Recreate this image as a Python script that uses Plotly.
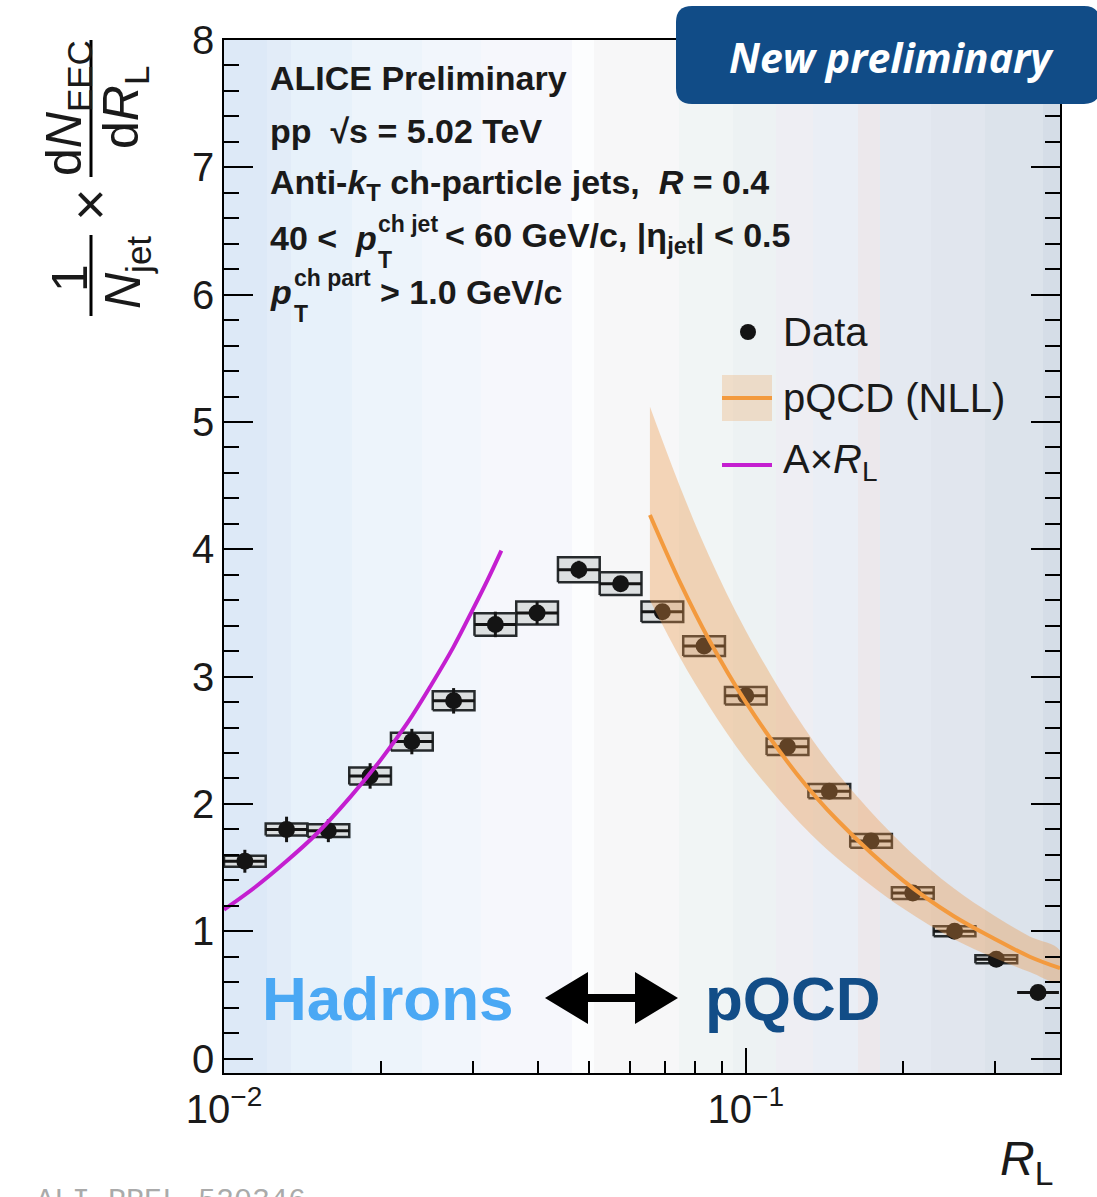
import numpy as np
import plotly.graph_objects as go

# ---------------- data ----------------
bin_edges = [0.01, 0.01202, 0.01445, 0.01738, 0.02089, 0.02512, 0.03020, 0.03631,
             0.04365, 0.05248, 0.06310, 0.07586, 0.09120, 0.1096, 0.1318, 0.1585,
             0.1905, 0.2291, 0.2754, 0.3311, 0.3981]
eec_values = [1.55, 1.80, 1.79, 2.22, 2.49, 2.81, 3.41, 3.50, 3.84, 3.73,
              3.51, 3.24, 2.85, 2.45, 2.10, 1.71, 1.30, 1.00, 0.78, 0.52]
stat_err = [0.09, 0.10, 0.09, 0.10, 0.10, 0.10, 0.10, 0.09, 0.07, 0.06,
            0.05, 0.05, 0.04, 0.04, 0.04, 0.03, 0.03, 0.03, 0.02, 0.02]
sys_err = [0.043, 0.047, 0.050, 0.067, 0.070, 0.075, 0.088, 0.090, 0.098, 0.089,
           0.081, 0.077, 0.069, 0.065, 0.056, 0.054, 0.046, 0.039, 0.031, 0.0]

pqcd_R = [0.0655, 0.075, 0.085, 0.10, 0.125, 0.15, 0.20, 0.25, 0.30, 0.35, 0.40]
pqcd_central = [4.27, 3.73, 3.29, 2.80, 2.24, 1.87, 1.40, 1.12, 0.94, 0.80, 0.71]
pqcd_upper = [5.12, 4.48, 3.95, 3.36, 2.69, 2.24, 1.68, 1.34, 1.12, 0.96, 0.85]
pqcd_lower = [3.60, 3.14, 2.77, 2.35, 1.88, 1.57, 1.18, 0.94, 0.79, 0.68, 0.60]

lin_R = [0.0100, 0.0115, 0.0130, 0.0150, 0.0175, 0.0200, 0.0225, 0.0250,
         0.0275, 0.0300, 0.0320, 0.0340]
lin_values = [1.17, 1.35, 1.53, 1.76, 2.06, 2.35, 2.64, 2.94, 3.23, 3.53, 3.76, 3.99]

xtick_vals = [0.01, 0.1]
xtick_text = ["10<sup>\u22122</sup>", "10<sup>\u22121</sup>"]
xminor_vals = [0.02, 0.03, 0.04, 0.05, 0.06, 0.07, 0.08, 0.09, 0.2, 0.3]

# ---------------- derived ----------------
edges = np.array(bin_edges)
lo, hi = edges[:-1], edges[1:]
centers = np.sqrt(lo * hi)
vals = np.array(eec_values)
syst = np.array(sys_err)

W, H = 1097, 1197
L, R_, T, B = 224, 1060, 40, 1073


def px(x):
    return (x - L) / (R_ - L)


def py(y):
    return (B - y) / (B - T)


FONT = "Liberation Sans, Arial, Helvetica, sans-serif"
fig = go.Figure()

# systematic boxes
bx, by = [], []
for l, h, v, s in zip(lo, hi, vals, syst):
    if s <= 0:
        continue
    bx += [l, h, h, l, l, None]
    by += [v - s, v - s, v + s, v + s, v - s, None]
fig.add_trace(go.Scatter(x=bx, y=by, mode="lines", fill="toself",
                         fillcolor="#dcdfe0", line=dict(color="#262a2c", width=2.5),
                         hoverinfo="skip", showlegend=False))

# data points
fig.add_trace(go.Scatter(
    x=centers, y=vals, mode="markers",
    marker=dict(size=17, color="#141414"),
    error_y=dict(type="data", array=stat_err, thickness=3, width=0, color="#141414"),
    error_x=dict(type="data", array=hi - centers, arrayminus=centers - lo,
                 thickness=3, width=0, color="#141414"),
    showlegend=False))

# pQCD band
fig.add_trace(go.Scatter(x=pqcd_R + pqcd_R[::-1], y=pqcd_upper + pqcd_lower[::-1],
                         mode="lines", fill="toself", fillcolor="rgba(236,150,70,0.36)",
                         line=dict(width=0, shape="spline"), hoverinfo="skip", showlegend=False))
fig.add_trace(go.Scatter(x=pqcd_R, y=pqcd_central, mode="lines",
                         line=dict(color="#f39a3e", width=4, shape="spline"), showlegend=False))
# A x R_L
fig.add_trace(go.Scatter(x=lin_R, y=lin_values, mode="lines",
                         line=dict(color="#c41fd0", width=4, shape="spline"), showlegend=False))

shapes = []
stripes = [(224, 267, "#dde9f7"), (267, 291, "#e2ecf8"), (291, 352, "#e7f1fa"),
           (352, 422, "#edf4fb"), (422, 481, "#f2f6fc"), (481, 572, "#f6f7fc"),
           (572, 594, "#fcfdfe"), (594, 679, "#f7f7f8"), (679, 733, "#f1f5f5"),
           (733, 776, "#edf2f3"), (776, 813, "#eeeef3"), (813, 858, "#eaeef5"),
           (858, 880, "#ece8ec"), (880, 931, "#e4e9f1"), (931, 985, "#e1e6ee"),
           (985, 1043, "#dce3eb"), (1043, 1060, "#d5dde7")]
for a, b, c in stripes:
    shapes.append(dict(type="rect", xref="paper", yref="paper", x0=px(a), x1=px(b),
                       y0=0, y1=1, fillcolor=c, line=dict(width=0), layer="below"))


def rrect(x0, y0, x1, y1, r):
    pts = [("M", x0 + r, y0), ("L", x1 - r, y0), ("Q", x1, y0, x1, y0 + r),
           ("L", x1, y1 - r), ("Q", x1, y1, x1 - r, y1), ("L", x0 + r, y1),
           ("Q", x0, y1, x0, y1 - r), ("L", x0, y0 + r), ("Q", x0, y0, x0 + r, y0)]
    out = []
    for p in pts:
        cmd = p[0]
        coords = p[1:]
        s = []
        for i in range(0, len(coords), 2):
            s.append(f"{px(coords[i]):.5f},{py(coords[i+1]):.5f}")
        out.append(cmd + " " + " ".join(s))
    return " ".join(out) + " Z"


shapes.append(dict(type="path", xref="paper", yref="paper", path=rrect(676, 6, 1100, 104, 16),
                   fillcolor="#114c87", line=dict(width=0), layer="above"))


def poly(points):
    s = "M " + " L ".join(f"{px(x):.5f},{py(y):.5f}" for x, y in points) + " Z"
    return s


arrow = [(545, 998), (588, 972), (588, 994), (635, 994), (635, 972), (678, 998),
         (635, 1024), (635, 1002), (588, 1002), (588, 1024)]
shapes.append(dict(type="path", xref="paper", yref="paper", path=poly(arrow),
                   fillcolor="black", line=dict(width=0), layer="above"))

# legend symbols
shapes.append(dict(type="circle", xref="paper", yref="paper", x0=px(740), x1=px(756),
                   y0=py(340), y1=py(324), fillcolor="#141414", line=dict(width=0)))
shapes.append(dict(type="rect", xref="paper", yref="paper", x0=px(722), x1=px(772),
                   y0=py(421), y1=py(375), fillcolor="rgba(236,150,70,0.25)", line=dict(width=0)))
shapes.append(dict(type="line", xref="paper", yref="paper", x0=px(722), x1=px(772),
                   y0=py(398), y1=py(398), line=dict(color="#f39a3e", width=4)))
shapes.append(dict(type="line", xref="paper", yref="paper", x0=px(722), x1=px(772),
                   y0=py(465), y1=py(465), line=dict(color="#c41fd0", width=4)))
# fraction bars of y title
shapes.append(dict(type="line", xref="paper", yref="paper", x0=px(91), x1=px(91),
                   y0=py(40), y1=py(177), line=dict(color="black", width=3)))
shapes.append(dict(type="line", xref="paper", yref="paper", x0=px(91), x1=px(91),
                   y0=py(235), y1=py(316), line=dict(color="black", width=3)))

annotations = []


def ann(text, x, y, size, xanchor="left", yanchor="middle", color="#1a1a1a",
        family=FONT, angle=0):
    annotations.append(dict(text=text, x=px(x), y=py(y), xref="paper", yref="paper",
                            xanchor=xanchor, yanchor=yanchor, showarrow=False,
                            textangle=angle, font=dict(size=size, color=color, family=family)))


TS = 34
SS = 23
ann("<b>ALICE Preliminary</b>", 268, 78, TS)
ann("<b>pp \u00a0\u221as = 5.02 TeV</b>", 268, 131, TS)
ann("<b>Anti-<i>k</i><sub>T</sub> ch-particle jets, \u00a0<i>R</i> = 0.4</b>", 268, 185, TS)
ann("<b>40 &lt; \u00a0<i>p</i></b>", 268, 238, TS)
ann("<b>ch jet</b>", 376, 224, SS)
ann("<b>T</b>", 376, 260, SS)
ann("<b>&lt; 60 GeV/c, |\u03b7<sub>jet</sub>| &lt; 0.5</b>", 443, 238, TS)
ann("<b><i>p</i></b>", 268, 292, TS)
ann("<b>ch part</b>", 292, 278, SS)
ann("<b>T</b>", 292, 314, SS)
ann("<b>&gt; 1.0 GeV/c</b>", 378, 292, TS)

# legend texts
ann("Data", 781, 332, 40)
ann("pQCD (NLL)", 781, 398, 40)
ann("A\u00d7<i>R</i><sub>L</sub>", 781, 462, 40)

# header box text
ann("<b><i>New preliminary</i></b>", 891, 57, 41, xanchor="center", color="white",
    family="Open Sans, sans-serif")

# Hadrons <-> pQCD
ann("<b>Hadrons</b>", 387, 998, 62, xanchor="center", color="#4aa8f4")
ann("<b>pQCD</b>", 793, 998, 62, xanchor="center", color="#124d87")

# axis titles
ann("<i>R</i><sub>L</sub>", 1026, 1162, 48, xanchor="center")
ann("d<i>N</i><sub>EEC</sub>", 67, 108, 50, xanchor="center", angle=-90)
ann("d<i>R</i><sub>L</sub>", 124, 108, 50, xanchor="center", angle=-90)
ann("\u00d7", 90, 205, 56, xanchor="center", angle=-90)
ann("1", 70, 278, 50, xanchor="center", angle=-90)
ann("<i>N</i><sub>jet</sub>", 126, 273, 50, xanchor="center", angle=-90)

# watermark (cut at the bottom)
ann("ALI-PREL-520346", 34, 1201, 30, color="#aaaaaa",
    family="Liberation Mono, Courier New, monospace")

fig.update_layout(
    width=W, height=H,
    margin=dict(l=L, r=W - R_, t=T, b=H - B, pad=0),
    paper_bgcolor="white", plot_bgcolor="white",
    font=dict(family=FONT, color="#1a1a1a"),
    shapes=shapes, annotations=annotations, showlegend=False,
    xaxis=dict(type="log", range=[-2, np.log10(0.4)], showgrid=False, zeroline=False,
               showline=True, linecolor="black", linewidth=1.5, mirror=True,
               ticks="inside", ticklen=25, tickwidth=1.5, tickcolor="black",
               tickvals=xtick_vals, ticktext=xtick_text, tickfont=dict(size=40),
               ticklabelstandoff=0,
               minor=dict(tickvals=xminor_vals, ticks="inside", ticklen=12,
                          tickwidth=1.5, tickcolor="black")),
    yaxis=dict(range=[-0.113, 8], showgrid=False, zeroline=False,
               showline=True, linecolor="black", linewidth=1.5, mirror="allticks",
               ticks="inside", ticklen=29, tickwidth=1.5, tickcolor="black",
               tick0=0, dtick=1, tickfont=dict(size=40), ticklabelstandoff=0,
               minor=dict(dtick=0.2, ticks="inside", ticklen=15, tickwidth=1.5,
                          tickcolor="black")),
)

fig.write_html("out.html", config={"displayModeBar": False},
               post_script="document.body.style.margin='0px';")
